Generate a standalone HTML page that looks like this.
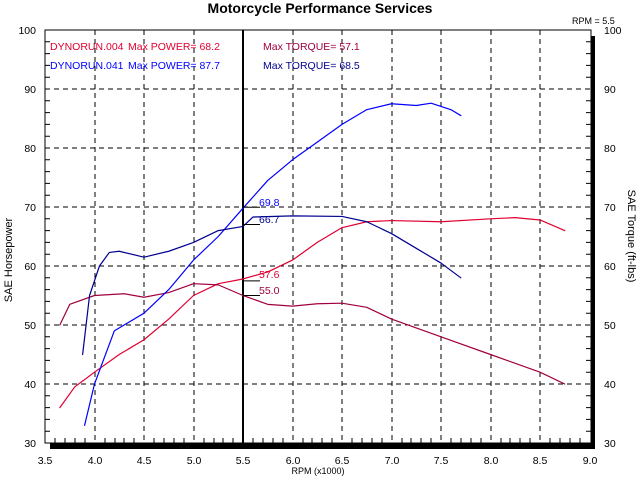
<!DOCTYPE html>
<html><head><style>body{margin:0;background:#fff}svg{display:block}text{font-family:"Liberation Sans",sans-serif}</style></head><body>
<svg width="640" height="480" xmlns="http://www.w3.org/2000/svg">
<rect width="640" height="480" fill="#fff"/>
<text x="320" y="13" font-size="14" font-weight="bold" text-anchor="middle">Motorcycle Performance Services</text>
<text x="572" y="24" font-size="9">RPM = 5.5</text>
<g stroke="#000" stroke-dasharray="5,4" stroke-width="1">
<line x1="95" y1="30" x2="95" y2="443"/><line x1="144" y1="30" x2="144" y2="443"/><line x1="194" y1="30" x2="194" y2="443"/>
<line x1="293" y1="30" x2="293" y2="443"/><line x1="342" y1="30" x2="342" y2="443"/><line x1="392" y1="30" x2="392" y2="443"/>
<line x1="441" y1="30" x2="441" y2="443"/><line x1="491" y1="30" x2="491" y2="443"/><line x1="540" y1="30" x2="540" y2="443"/>
<line x1="45" y1="89" x2="591" y2="89"/><line x1="45" y1="148" x2="591" y2="148"/><line x1="45" y1="207" x2="591" y2="207"/>
<line x1="45" y1="266" x2="591" y2="266"/><line x1="45" y1="325" x2="591" y2="325"/><line x1="45" y1="384" x2="591" y2="384"/>
</g>
<line x1="243" y1="30" x2="243" y2="443" stroke="#000" stroke-width="2"/>
<rect x="45" y="30" width="546" height="413" fill="none" stroke="#000"/>
<rect x="591" y="36" width="4" height="413" fill="#000"/>
<rect x="50" y="443" width="545" height="6" fill="#000"/>
<g stroke="#000">
<path d="M45 41.8h5M45 53.6h5M45 65.4h5M45 77.2h5M45 100.8h5M45 112.6h5M45 124.4h5M45 136.2h5M45 159.8h5M45 171.6h5M45 183.4h5M45 195.2h5M45 218.8h5M45 230.6h5M45 242.4h5M45 254.2h5M45 277.8h5M45 289.6h5M45 301.4h5M45 313.2h5M45 336.8h5M45 348.6h5M45 360.4h5M45 372.2h5M45 395.8h5M45 407.6h5M45 419.4h5M45 431.2h5"/>
<path d="M591 41.8h-5M591 53.6h-5M591 65.4h-5M591 77.2h-5M591 100.8h-5M591 112.6h-5M591 124.4h-5M591 136.2h-5M591 159.8h-5M591 171.6h-5M591 183.4h-5M591 195.2h-5M591 218.8h-5M591 230.6h-5M591 242.4h-5M591 254.2h-5M591 277.8h-5M591 289.6h-5M591 301.4h-5M591 313.2h-5M591 336.8h-5M591 348.6h-5M591 360.4h-5M591 372.2h-5M591 395.8h-5M591 407.6h-5M591 419.4h-5M591 431.2h-5"/>
<path d="M55 443v-5M65 443v-5M75 443v-5M85 443v-5M105 443v-5M115 443v-5M124 443v-5M134 443v-5M154 443v-5M164 443v-5M174 443v-5M184 443v-5M204 443v-5M214 443v-5M223 443v-5M233 443v-5M253 443v-5M263 443v-5M273 443v-5M283 443v-5M303 443v-5M312 443v-5M322 443v-5M332 443v-5M352 443v-5M362 443v-5M372 443v-5M382 443v-5M402 443v-5M411 443v-5M421 443v-5M431 443v-5M451 443v-5M461 443v-5M471 443v-5M481 443v-5M501 443v-5M510 443v-5M520 443v-5M530 443v-5M550 443v-5M560 443v-5M570 443v-5M580 443v-5"/>
</g>
<g font-size="10.5" text-anchor="end">
<text x="36" y="34">100</text><text x="36" y="93">90</text><text x="36" y="152">80</text><text x="36" y="211">70</text><text x="36" y="270">60</text><text x="36" y="329">50</text><text x="36" y="388">40</text><text x="36" y="447">30</text>
</g>
<g font-size="10.5">
<text x="604" y="34">100</text><text x="604" y="93">90</text><text x="604" y="152">80</text><text x="604" y="211">70</text><text x="604" y="270">60</text><text x="604" y="329">50</text><text x="604" y="388">40</text><text x="604" y="447">30</text>
</g>
<g font-size="10.5" text-anchor="middle">
<text x="45" y="464">3.5</text><text x="95" y="464">4.0</text><text x="144" y="464">4.5</text><text x="194" y="464">5.0</text><text x="243" y="464">5.5</text><text x="293" y="464">6.0</text><text x="342" y="464">6.5</text><text x="392" y="464">7.0</text><text x="441" y="464">7.5</text><text x="491" y="464">8.0</text><text x="540" y="464">8.5</text><text x="590" y="464">9.0</text>
<text x="318" y="474" font-size="9">RPM (x1000)</text>
</g>
<text transform="translate(12,260) rotate(-90)" font-size="11" text-anchor="middle">SAE Horsepower</text>
<text transform="translate(628,236) rotate(90)" font-size="11" text-anchor="middle">SAE Torque (ft-lbs)</text>
<g font-size="10.5">
<text x="50" y="50" fill="#e00030">DYNORUN.004</text>
<text x="128" y="50" fill="#e00030">Max POWER= 68.2</text>
<text x="263" y="50" fill="#a00040">Max TORQUE= 57.1</text>
<text x="50" y="69" fill="#0000ff">DYNORUN.041</text>
<text x="128" y="69" fill="#0000ff">Max POWER= 87.7</text>
<text x="263" y="69" fill="#000090">Max TORQUE= 68.5</text>
</g>
<g transform="matrix(99 0 0 -5.9 -301.5 620)" fill="none" stroke-width="1.2" stroke-linejoin="round" stroke-linecap="round">
<polyline vector-effect="non-scaling-stroke" stroke="#e00030" points="3.65,36 3.8,39.5 4,42 4.25,45 4.5,47.5 4.75,51 5,55 5.25,57 5.5,57.8 5.75,59 6,61 6.25,64 6.5,66.5 6.75,67.5 7,67.7 7.5,67.5 8,68 8.25,68.2 8.5,67.8 8.75,66"/>
<polyline vector-effect="non-scaling-stroke" stroke="#a00040" points="3.65,50 3.75,53.5 4,55 4.3,55.3 4.5,54.7 4.75,55.5 5,57 5.25,56.8 5.5,55 5.75,53.5 6,53.2 6.25,53.6 6.5,53.7 6.75,53 7,51 7.5,48 8,45 8.5,42 8.75,40"/>
<polyline vector-effect="non-scaling-stroke" stroke="#0000ff" points="3.9,33 4,40 4.2,49 4.5,52 4.75,56 5,61 5.25,65 5.5,69.8 5.75,74.5 6,78 6.25,81 6.5,84 6.75,86.5 7,87.5 7.25,87.2 7.4,87.6 7.6,86.5 7.7,85.5"/>
<polyline vector-effect="non-scaling-stroke" stroke="#000090" points="3.88,45 3.95,55 4.05,60 4.15,62.3 4.25,62.5 4.5,61.5 4.75,62.5 5,64 5.25,66 5.5,66.7 5.6,68.3 6,68.5 6.5,68.4 6.75,67.5 7,65.5 7.25,63 7.5,60.5 7.7,58"/>
</g>
<g stroke="#000"><path d="M243 207.2h17M243 224.5h17M243 280.9h17M243 295.5h17"/></g>
<g font-size="10.5">
<text x="259" y="206" fill="#0000ff">69.8</text>
<text x="259" y="223" fill="#000090">66.7</text>
<text x="259" y="278" fill="#e00030">57.6</text>
<text x="259" y="294" fill="#a00040">55.0</text>
</g>
</svg>
</body></html>
